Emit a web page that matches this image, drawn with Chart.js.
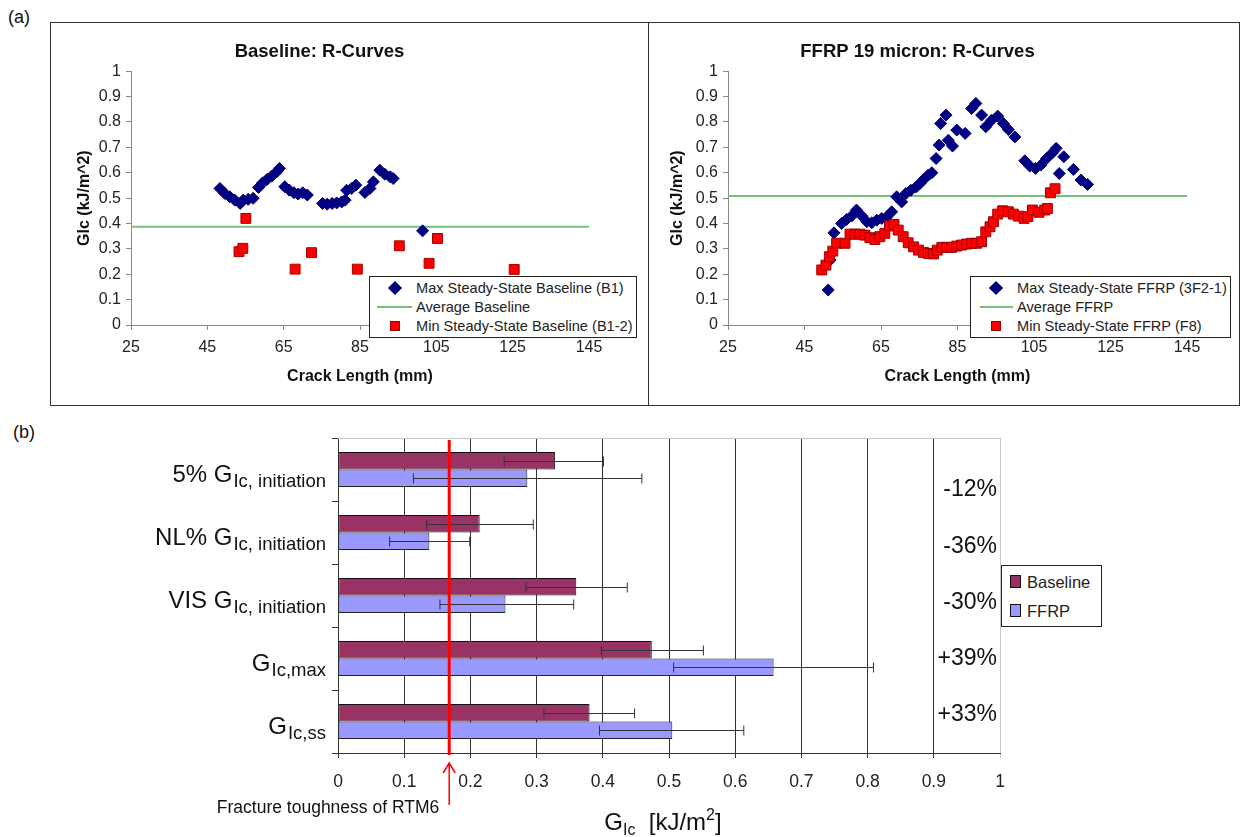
<!DOCTYPE html>
<html>
<head>
<meta charset="utf-8">
<title>R-Curves and GIc comparison</title>
<script src="https://cdn.jsdelivr.net/npm/chart.js"></script>
<style>
    body { margin: 0; background: #fff; font-family: 'Liberation Sans', Arial, sans-serif; color: #111; }
    #page { position: relative; width: 1243px; height: 837px; overflow: hidden; }
    canvas { position: absolute; }
    .frame { position: absolute; border: 1px solid #333; box-sizing: border-box; }
    .panel-tag { position: absolute; font-size: 18px; color: #111; }
    .legend { position: absolute; background: #fff; border: 1px solid #222; box-sizing: border-box; color: #222; }
    .legend .txt { position: absolute; white-space: nowrap; transform: translateY(-50%); }
    .legend .mk { position: absolute; box-sizing: border-box; }
</style>
</head>
<body>
<div id="page">
    <div class="panel-tag" style="left:8px; top:7px;">(a)</div>
    <div class="panel-tag" style="left:13px; top:422px;">(b)</div>

    <div class="frame" style="left:50px; top:22px; width:599px; height:384px;"></div>
    <div class="frame" style="left:648px; top:22px; width:592px; height:384px;"></div>

    <canvas id="baselineChart" width="598" height="383" style="left:50px; top:22px;"></canvas>
    <canvas id="ffrpChart" width="591" height="383" style="left:648px; top:22px;"></canvas>
    <canvas id="gicChart" width="1243" height="417" style="left:0px; top:420px;"></canvas>

    <!-- legend (a) left -->
    <div class="legend" style="left:369px; top:276px; width:268px; height:62px; font-size:14.6px;">
        <div class="mk" style="left:20px; top:6px; width:10px; height:10px; background:#000080; transform:rotate(45deg);"></div>
        <div class="txt" style="left:46px; top:11px;">Max Steady-State Baseline (B1)</div>
        <div class="mk" style="left:7px; top:29px; width:35px; height:2px; background:#77c077;"></div>
        <div class="txt" style="left:46px; top:30px;">Average Baseline</div>
        <div class="mk" style="left:20px; top:44px; width:10px; height:10px; background:#ff0000; border:1px solid #a00000;"></div>
        <div class="txt" style="left:46px; top:49px;">Min Steady-State Baseline (B1-2)</div>
    </div>

    <!-- legend (a) right -->
    <div class="legend" style="left:970px; top:276px; width:261px; height:62px; font-size:14.6px;">
        <div class="mk" style="left:20px; top:6px; width:10px; height:10px; background:#000080; transform:rotate(45deg);"></div>
        <div class="txt" style="left:46px; top:11px;">Max Steady-State FFRP (3F2-1)</div>
        <div class="mk" style="left:9px; top:29px; width:33px; height:2px; background:#77c077;"></div>
        <div class="txt" style="left:46px; top:30px;">Average FFRP</div>
        <div class="mk" style="left:20px; top:44px; width:10px; height:10px; background:#ff0000; border:1px solid #a00000;"></div>
        <div class="txt" style="left:46px; top:49px;">Min Steady-State FFRP (F8)</div>
    </div>

    <!-- legend (b) -->
    <div class="legend" style="left:1001px; top:565px; width:101px; height:62px; font-size:16.5px;">
        <div class="mk" style="left:8px; top:9px; width:11px; height:13px; background:#993366; border:1px solid #111;"></div>
        <div class="txt" style="left:25px; top:16px;">Baseline</div>
        <div class="mk" style="left:8px; top:38px; width:11px; height:13px; background:#9999ff; border:1px solid #111;"></div>
        <div class="txt" style="left:25px; top:45px;">FFRP</div>
    </div>
</div>

<script>
const FONT = "'Liberation Sans', Arial, sans-serif";
Chart.defaults.font.family = FONT;

// ---- (a) R-curve axes ----
const crackTicks = [25, 45, 65, 85, 105, 125, 145];
const gicTicks = [0, 0.1, 0.2, 0.3, 0.4, 0.5, 0.6, 0.7, 0.8, 0.9, 1];

// Baseline: max steady state (B1)
const baseMaxX = [48.3, 49.6, 50.9, 52.2, 53.6, 54.4, 55.7, 57.0, 58.4, 59.5, 60.7, 61.9, 63.2, 63.9,
    65.3, 66.5, 67.7, 68.8, 70.0, 71.2, 75.2, 76.4, 77.7, 78.9, 80.2, 81.1, 81.5, 82.8, 83.9,
    86.3, 87.6, 88.5, 90.2, 91.5, 92.9, 93.7, 101.4];
const baseMaxY = [0.538, 0.518, 0.505, 0.492, 0.479, 0.492, 0.495, 0.499, 0.542, 0.560, 0.574, 0.587, 0.604, 0.617,
    0.545, 0.531, 0.521, 0.516, 0.521, 0.512, 0.479, 0.476, 0.479, 0.481, 0.485, 0.492, 0.531, 0.538, 0.551,
    0.522, 0.538, 0.564, 0.610, 0.594, 0.584, 0.577, 0.371];
// Baseline: min steady state (B1-2)
const baseMinX = [53.3, 54.3, 55.1, 68.0, 72.3, 84.3, 95.3, 103.1, 105.3, 125.4];
const baseMinY = [0.289, 0.302, 0.420, 0.220, 0.285, 0.220, 0.312, 0.243, 0.341, 0.219];
const baseAvg = 0.387;

// FFRP: max steady state (3F2-1)
const ffrpMaxX = [51.2, 51.7, 52.7, 54.7, 56.0, 57.3, 58.6, 60.0, 61.3, 62.6, 63.9, 65.2, 66.5, 67.8,
    69.1, 70.4, 71.5, 72.8, 74.2, 75.2, 76.2, 77.4, 78.3, 79.4, 80.2, 80.6, 82.0, 82.6, 83.7, 84.8,
    87.0, 88.7, 89.8, 91.3, 92.4, 93.9, 95.5, 97.0, 98.3, 100.0, 102.6, 103.9, 105.4, 106.8, 108.3,
    109.8, 110.8, 111.6, 112.8, 115.3, 117.3, 119.0];
const ffrpMaxY = [0.138, 0.256, 0.363, 0.400, 0.416, 0.429, 0.453, 0.429, 0.407, 0.403, 0.413, 0.420, 0.426, 0.446,
    0.505, 0.485, 0.518, 0.531, 0.544, 0.558, 0.574, 0.591, 0.600, 0.656, 0.709, 0.794, 0.827, 0.728, 0.705, 0.768,
    0.755, 0.853, 0.873, 0.827, 0.781, 0.807, 0.823, 0.794, 0.770, 0.741, 0.647, 0.626, 0.617, 0.630, 0.656,
    0.678, 0.696, 0.597, 0.663, 0.613, 0.571, 0.554];
// FFRP: min steady state (F8)
const ffrpMinX = [49.5, 50.6, 51.5, 52.4, 53.4, 55.6, 56.9, 58.2, 59.5, 60.8, 62.1, 63.4, 64.7, 66.0,
    67.2, 68.4, 69.5, 70.8, 72.1, 73.5, 74.8, 76.1, 77.4, 78.7, 79.7, 80.9, 82.2, 83.5, 84.8, 86.1,
    87.4, 88.7, 90.0, 91.3, 92.4, 93.5, 94.4, 95.5, 96.8, 98.3, 99.6, 100.9, 102.4, 103.4, 104.6,
    106.3, 107.8, 108.5, 109.3, 110.5];
const ffrpMinY = [0.217, 0.236, 0.269, 0.291, 0.322, 0.322, 0.358, 0.358, 0.358, 0.354, 0.344, 0.337, 0.348, 0.361,
    0.390, 0.396, 0.374, 0.348, 0.324, 0.308, 0.295, 0.286, 0.282, 0.280, 0.295, 0.306, 0.306, 0.306, 0.311, 0.315,
    0.319, 0.322, 0.322, 0.328, 0.367, 0.387, 0.407, 0.437, 0.450, 0.446, 0.437, 0.429, 0.420, 0.427, 0.453,
    0.444, 0.453, 0.459, 0.521, 0.537];
const ffrpAvg = 0.508;

// ---- (b) GIc comparison ----
const gicCategories = ['5% GIc, initiation', 'NL% GIc, initiation', 'VIS GIc, initiation', 'GIc,max', 'GIc,ss'];
const catMain = ['5% G', 'NL% G', 'VIS G', 'G', 'G'];
const catSub = ['Ic, initiation', 'Ic, initiation', 'Ic, initiation', 'Ic,max', 'Ic,ss'];
const baselineGic = [0.328, 0.214, 0.360, 0.474, 0.380];
const baselineLow = [0.251, 0.134, 0.284, 0.398, 0.311];
const baselineHigh = [0.401, 0.295, 0.437, 0.552, 0.448];
const ffrpGic = [0.286, 0.138, 0.253, 0.658, 0.505];
const ffrpLow = [0.114, 0.078, 0.154, 0.507, 0.395];
const ffrpHigh = [0.459, 0.199, 0.356, 0.809, 0.613];
const changeLabels = ['-12%', '-36%', '-30%', '+39%', '+33%'];
const rtm6Gic = 0.168;
const gicAxisTicks = [0, 0.1, 0.2, 0.3, 0.4, 0.5, 0.6, 0.7, 0.8, 0.9, 1];

const zip = (xs, ys) => xs.map((x, i) => ({ x: x, y: ys[i] }));

function rCurveChart(canvasId, opts) {
    const ctx = document.getElementById(canvasId).getContext('2d');
    return new Chart(ctx, {
        type: 'scatter',
        data: {
            datasets: [
                {
                    label: opts.maxLabel,
                    data: zip(opts.maxX, opts.maxY),
                    pointStyle: 'rectRot',
                    radius: 6,
                    backgroundColor: '#000080',
                    borderColor: '#000080',
                    borderWidth: 1,
                    order: 1
                },
                {
                    label: opts.avgLabel,
                    data: [{ x: 25, y: opts.avg }, { x: 145, y: opts.avg }],
                    showLine: true,
                    borderColor: '#77c077',
                    borderWidth: 2,
                    pointRadius: 0,
                    order: 2
                },
                {
                    label: opts.minLabel,
                    data: zip(opts.minX, opts.minY),
                    pointStyle: 'rect',
                    radius: 7,
                    backgroundColor: '#ff0000',
                    borderColor: '#a00000',
                    borderWidth: 1,
                    order: 0
                }
            ]
        },
        options: {
            responsive: false,
            animation: false,
            events: [],
            layout: { padding: { left: 0, right: opts.rightPad, top: 0, bottom: 0 } },
            plugins: {
                legend: { display: false },
                tooltip: { enabled: false },
                title: {
                    display: true,
                    text: opts.title,
                    color: '#111',
                    font: { size: 18.5, weight: 'bold' },
                    padding: { top: 19, bottom: 8 }
                }
            },
            scales: {
                x: {
                    type: 'linear',
                    min: 25,
                    max: 145,
                    afterBuildTicks: s => { s.ticks = crackTicks.map(v => ({ value: v })); },
                    afterFit: s => { s.height = 80; },
                    grid: { drawOnChartArea: false, drawTicks: true, tickLength: 5, color: '#888' },
                    border: { color: '#888' },
                    ticks: { color: '#222', font: { size: 16 }, padding: 8, maxRotation: 0, autoSkip: false },
                    title: {
                        display: true,
                        text: 'Crack Length (mm)',
                        color: '#111',
                        font: { size: 16, weight: 'bold' },
                        padding: { top: 0, bottom: 19 }
                    }
                },
                y: {
                    type: 'linear',
                    min: 0,
                    max: 1,
                    afterBuildTicks: s => { s.ticks = gicTicks.map(v => ({ value: v })); },
                    afterFit: s => { s.width = opts.yWidth; },
                    grid: { drawOnChartArea: false, drawTicks: true, tickLength: 5, color: '#888' },
                    border: { color: '#888' },
                    ticks: { color: '#222', font: { size: 16 }, padding: 5, autoSkip: false, callback: v => String(v) },
                    title: {
                        display: true,
                        text: 'Glc (kJ/m^2)',
                        color: '#111',
                        font: { size: 16, weight: 'bold' },
                        padding: { top: opts.yTitlePad, bottom: 0 }
                    }
                }
            }
        }
    });
}

rCurveChart('baselineChart', {
    title: 'Baseline: R-Curves',
    maxLabel: 'Max Steady-State Baseline (B1)',
    avgLabel: 'Average Baseline',
    minLabel: 'Min Steady-State Baseline (B1-2)',
    maxX: baseMaxX, maxY: baseMaxY, minX: baseMinX, minY: baseMinY, avg: baseAvg,
    rightPad: 59, yWidth: 81, yTitlePad: 25
});

rCurveChart('ffrpChart', {
    title: 'FFRP 19 micron: R-Curves',
    maxLabel: 'Max Steady-State FFRP (3F2-1)',
    avgLabel: 'Average FFRP',
    minLabel: 'Min Steady-State FFRP (F8)',
    maxX: ffrpMaxX, maxY: ffrpMaxY, minX: ffrpMinX, minY: ffrpMinY, avg: ffrpAvg,
    rightPad: 52, yWidth: 80, yTitlePad: 20
});

// error bars, RTM6 marker and the rich-text labels of panel (b)
const gicDecor = {
    id: 'gicDecor',
    beforeDatasetsDraw(chart) {
        const { ctx, chartArea } = chart;
        ctx.save();
        ctx.strokeStyle = '#c8c8c8';
        ctx.lineWidth = 1;
        ctx.beginPath();
        ctx.moveTo(chartArea.left, chartArea.top + 0.5);
        ctx.lineTo(chartArea.right, chartArea.top + 0.5);
        ctx.stroke();
        ctx.restore();
    },
    afterDatasetsDraw(chart) {
        const { ctx, chartArea } = chart;
        const xs = chart.scales.x;
        const ys = chart.scales.y;
        const ranges = [[baselineLow, baselineHigh], [ffrpLow, ffrpHigh]];

        ctx.save();
        // error bars
        ctx.strokeStyle = '#333';
        ctx.lineWidth = 1;
        ranges.forEach((r, d) => {
            chart.getDatasetMeta(d).data.forEach((bar, i) => {
                const y = Math.round(bar.y) + 0.5;
                const x0 = xs.getPixelForValue(r[0][i]);
                const x1 = xs.getPixelForValue(r[1][i]);
                ctx.beginPath();
                ctx.moveTo(x0, y); ctx.lineTo(x1, y);
                ctx.moveTo(x0, y - 5); ctx.lineTo(x0, y + 5);
                ctx.moveTo(x1, y - 5); ctx.lineTo(x1, y + 5);
                ctx.stroke();
            });
        });

        // RTM6 reference line
        const rx = xs.getPixelForValue(rtm6Gic);
        ctx.strokeStyle = '#ff0000';
        ctx.lineWidth = 3;
        ctx.beginPath();
        ctx.moveTo(rx, chartArea.top + 2);
        ctx.lineTo(rx, chartArea.bottom + 2);
        ctx.stroke();

        // arrow and caption below the axis
        const aTop = chartArea.bottom + 10;
        ctx.lineWidth = 1.5;
        ctx.beginPath();
        ctx.moveTo(rx, aTop); ctx.lineTo(rx, chartArea.bottom + 52);
        ctx.moveTo(rx - 6, aTop + 10); ctx.lineTo(rx, aTop); ctx.lineTo(rx + 6, aTop + 10);
        ctx.stroke();
        ctx.fillStyle = '#111';
        ctx.font = '17.5px ' + FONT;
        ctx.textAlign = 'right';
        ctx.textBaseline = 'alphabetic';
        ctx.fillText('Fracture toughness of RTM6', rx - 10, chartArea.bottom + 60);

        // change percentages
        ctx.font = '23px ' + FONT;
        ctx.textBaseline = 'middle';
        changeLabels.forEach((t, k) => {
            ctx.fillText(t, chartArea.right - 3, chartArea.top + 52 + k * 56.2);
        });

        // category labels with subscripts
        gicCategories.forEach((c, i) => {
            const cy = ys.getPixelForValue(i);
            const right = chartArea.left - 12;
            ctx.textBaseline = 'alphabetic';
            ctx.font = '18.5px ' + FONT;
            const subW = ctx.measureText(catSub[i]).width;
            ctx.fillText(catSub[i], right, cy + 17);
            ctx.font = '24px ' + FONT;
            ctx.fillText(catMain[i], right - subW - 1, cy + 12);
        });

        // axis title G_Ic [kJ/m^2]
        const parts = [
            { t: 'G', size: 24, dy: 0 },
            { t: 'Ic', size: 16, dy: 5 },
            { t: '  [kJ/m', size: 24, dy: 0 },
            { t: '2', size: 16, dy: -10 },
            { t: ']', size: 24, dy: 0 }
        ];
        let total = 0;
        parts.forEach(p => { ctx.font = p.size + 'px ' + FONT; p.w = ctx.measureText(p.t).width; total += p.w; });
        let tx = (chartArea.left + chartArea.right) / 2 - total / 2 - 6;
        const base = chartArea.bottom + 77;
        ctx.textAlign = 'left';
        parts.forEach(p => {
            ctx.font = p.size + 'px ' + FONT;
            ctx.fillText(p.t, tx, base + p.dy);
            tx += p.w;
        });
        ctx.restore();
    }
};

new Chart(document.getElementById('gicChart').getContext('2d'), {
    type: 'bar',
    data: {
        labels: gicCategories,
        datasets: [
            {
                label: 'Baseline',
                data: baselineGic,
                backgroundColor: '#993366',
                borderColor: '#111',
                borderWidth: 1,
                borderSkipped: false
            },
            {
                label: 'FFRP',
                data: ffrpGic,
                backgroundColor: '#9999ff',
                borderColor: '#222',
                borderWidth: 1,
                borderSkipped: false
            }
        ]
    },
    options: {
        indexAxis: 'y',
        responsive: false,
        animation: false,
        events: [],
        categoryPercentage: 0.556,
        barPercentage: 1.0,
        layout: { padding: { left: 0, right: 243, top: 18, bottom: 0 } },
        plugins: {
            legend: { display: false },
            tooltip: { enabled: false }
        },
        scales: {
            x: {
                type: 'linear',
                min: 0,
                max: 1,
                afterBuildTicks: s => { s.ticks = gicAxisTicks.map(v => ({ value: v })); },
                afterFit: s => { s.height = 84; },
                grid: {
                    color: c => (c.tick && c.tick.value === 1 ? '#c8c8c8' : '#333'),
                    tickLength: 5
                },
                border: { color: '#333' },
                ticks: { color: '#222', font: { size: 17.5 }, padding: 14, maxRotation: 0, autoSkip: false, callback: v => String(v) }
            },
            y: {
                afterFit: s => { s.width = 338; },
                grid: { offset: true, drawOnChartArea: false, tickLength: 6, color: '#333' },
                border: { color: '#333' },
                ticks: { display: false }
            }
        }
    },
    plugins: [gicDecor]
});
</script>
</body>
</html>
